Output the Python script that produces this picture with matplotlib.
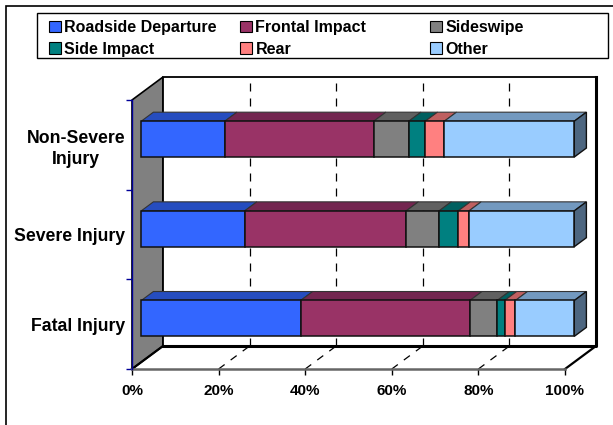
import matplotlib
matplotlib.use("Agg")
import matplotlib.pyplot as plt
from matplotlib.patches import Polygon, Rectangle, Patch

plt.rcParams['font.family'] = ['Liberation Sans', 'DejaVu Sans']
plt.rcParams['font.weight'] = 'bold'

categories = ['Fatal Injury', 'Severe Injury', 'Non-Severe\nInjury']
series = ['Roadside Departure', 'Frontal Impact', 'Sideswipe', 'Side Impact', 'Rear', 'Other']
colors = ['#3366FF', '#993366', '#808080', '#008080', '#FF8080', '#99CCFF']
tops = ['#264DBF', '#732650', '#606060', '#006060', '#BF6060', '#7399BF']
roadside = [36.8, 23.9, 19.3]
frontal = [39.1, 37.3, 34.4]
sideswipe = [6.3, 7.6, 8.1]
side_impact = [1.7, 4.4, 3.8]
rear = [2.5, 2.5, 4.4]
other = [13.6, 24.3, 30.0]
values = [roadside, frontal, sideswipe, side_impact, rear, other]
xticks = [0, 20, 40, 60, 80, 100]

W, H = 613, 425
fig = plt.figure(figsize=(W / 100, H / 100), dpi=100)
ax = fig.add_axes([132 / W, 1 - 369 / H, 433 / W, 269 / H])
ax.set_xlim(0, 100)
ax.set_ylim(0, 3)

# depth of the fake 3d box, in data units
dx = 31 / 4.33
dy = 23 / (269 / 3)


def off(x, y, z):
    return (x + dx * z, y + dy * z)


def poly(pts, **kw):
    kw.setdefault('clip_on', False)
    ax.add_patch(Polygon(pts, closed=True, **kw))


# walls
poly([off(0, 0, 0), off(0, 3, 0), off(0, 3, 1), off(0, 0, 1)], fc='#808080', ec='black', lw=1.2, zorder=1)
poly([off(0, 0, 1), off(100, 0, 1), off(100, 3, 1), off(0, 3, 1)], fc='white', ec='black', lw=1.3, zorder=1)
ax.plot(*zip(off(0, 0, 1), off(100, 0, 1), off(100, 3, 1)), color='black', lw=2.2, clip_on=False, zorder=1.1)
ax.plot(*zip(off(0, 0, 0), off(0, 0, 1)), color='black', lw=1.6, clip_on=False, zorder=1.1)
ax.plot(*zip(off(100, 0, 0), off(100, 0, 1)), color='black', lw=1.6, clip_on=False, zorder=1.1)

# gridlines
for t in xticks[1:-1]:
    ax.plot(*zip(off(t, 0, 1), off(t, 3, 1)), color='black', lw=0.9, ls=(0, (6.4, 5.6)), clip_on=False, zorder=1.2)
    ax.plot(*zip(off(t, 0, 0), off(t, 0, 1)), color='black', lw=0.9, ls=(0, (6, 6)), clip_on=False, zorder=1.2)

# stacked bars
z0, z1 = 0.3, 0.69
h = 0.2
for i in range(len(categories)):
    left = 0
    for j in range(len(series)):
        v = values[j][i]
        r = left + v
        y0, y1 = i + 0.5 - h - dy * 0.05, i + 0.5 + h - dy * 0.05
        poly([off(left, y1, z0), off(r, y1, z0), off(r, y1, z1), off(left, y1, z1)],
             fc=tops[j], ec='#333333', lw=0.8, zorder=3)
        poly([off(left, y0, z0), off(r, y0, z0), off(r, y1, z0), off(left, y1, z0)],
             fc=colors[j], ec='#111111', lw=1.1, zorder=4)
        left = r
    poly([off(left, y0, z0), off(left, y0, z1), off(left, y1, z1), off(left, y1, z0)],
         fc='#4D6680', ec='#111111', lw=1.0, zorder=3)

# axes
for s in ['top', 'right']:
    ax.spines[s].set_visible(False)
ax.spines['left'].set_color('#000099')
ax.spines['left'].set_linewidth(1.0)
ax.spines['left'].set_zorder(5)
ax.spines['bottom'].set_color('#666666')
ax.spines['bottom'].set_linewidth(1.8)
ax.patch.set_visible(False)
ax.set_xticks(xticks)
ax.set_xticklabels([f'{t}%' for t in xticks], fontsize=11, fontweight='bold', color='black')
ax.tick_params(axis='x', length=4, width=1, color='black', pad=7)
ax.set_yticks([0, 1, 2, 3])
ax.set_yticklabels([])
ax.tick_params(axis='y', length=4, width=1, color='#000099')
ax.set_yticks([i + 0.5 for i in range(3)], minor=True)
ax.set_yticklabels(categories, minor=True, fontsize=12.7, fontweight='bold', ha='right',
                   multialignment='center', linespacing=1.3)
ax.tick_params(axis='y', which='minor', length=0, pad=5)

# legend frame plus one legend per column so the columns sit evenly apart
fig.add_artist(Rectangle((36.5 / W, 1 - 58 / H), 571.5 / W, 44.5 / H, transform=fig.transFigure,
                         fc='white', ec='black', lw=1.0, zorder=2))
for c, x in enumerate([49, 240, 430]):
    handles = [Patch(fc=colors[k], ec='black', lw=0.8, label=series[k]) for k in (c, c + 3)]
    leg = fig.legend(handles=handles, loc='upper left', bbox_to_anchor=(x / W, 1 - 20 / H),
                     borderaxespad=0, borderpad=0, fontsize=11.5, frameon=False,
                     handlelength=0.72, handleheight=0.72, handletextpad=0.25, labelspacing=0.42)
    leg.set_zorder(3)

# outer frame, runs off the top right
fig.add_artist(Rectangle((6 / W, -0.1), 1.1, 1.1 - 6 / H, transform=fig.transFigure,
                         fill=False, ec='black', lw=1.2))

fig.savefig('out.png', dpi=100)
